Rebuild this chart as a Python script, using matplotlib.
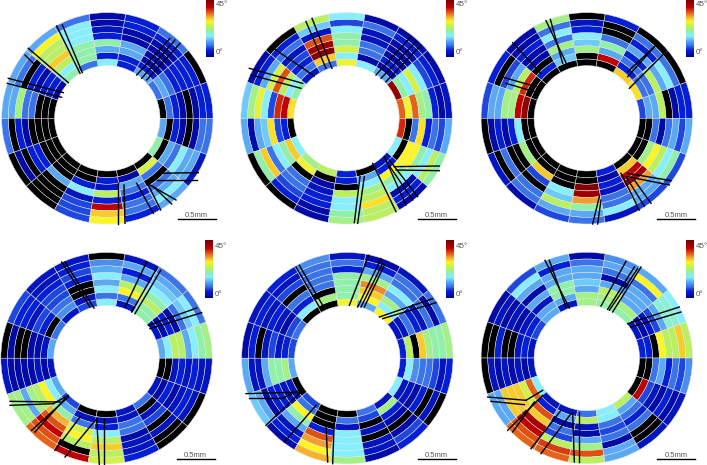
import numpy as np
import matplotlib
matplotlib.use("Agg")
import matplotlib.pyplot as plt
from matplotlib.cm import ScalarMappable
from matplotlib.colors import LinearSegmentedColormap, Normalize

W, H = 707, 465
K = np.nan  # black cells: no reading

# one row per 20 degree sector (counter-clockwise from 3 o'clock), rings inner -> outer
angles_a = [
    [K, 10, 6, 2, K, 2, 6, 6], [10, 14, 10, 6, 6, 6, 6, K], [14, 6, 2, 2, 2, 2, 6, 10],
    [6, 6, 14, 14, 2, 2, 6, 6], [18, 6, 14, 22, 6, 4, 2, 2], [10, 22, 22, 22, 18, 18, 18, 10],
    [22, 18, 26, 33, 26, 26, 31, 14], [2, 6, 6, 2, 6, K, 10, 14], [K, K, K, 10, 10, 24, 14, 14],
    [K, K, K, K, 2, 6, K, 10], [K, K, K, 6, 6, K, 2, K], [K, K, K, 14, K, K, K, K],
    [K, K, 6, 18, 4, 8, 8, 8], [K, 6, 4, 26, 6, 43, 33, 31], [K, 2, 14, 10, 6, 10, 10, 6],
    [K, 28, 10, K, 10, 14, 18, 14], [22, K, 14, 10, 18, 14, 14, 4], [14, K, 6, 2, K, 2, 10, 10],
]
angles_b = [
    [38, 30, 38, 24, 22, 6, 2, 4], [47, 22, 18, 28, 18, 8, 6, 2], [14, 2, 6, 2, 2, 2, 6, 2],
    [18, 2, 10, 10, 4, 4, 10, 2], [30, 18, 28, 22, 22, 18, 8, 18], [10, 33, 48, 46, 39, 4, 16, 26],
    [4, 10, 6, 8, 4, 10, 6, K], [22, 18, 26, 39, 28, 14, 6, 2], [32, 43, 41, 8, 18, 29, 24, 16],
    [K, 6, 8, 32, 16, 14, 2, 14], [18, 33, 22, 18, 10, 33, 22, K], [24, 30, K, 10, 10, 8, 6, K],
    [26, K, 2, 4, 6, 6, 2, 2], [6, 6, K, 26, 18, 18, 22, 24], [K, 14, 18, 24, 26, 32, 26, 26],
    [4, 6, 31, 22, 18, 2, 6, 2], [18, K, 31, 31, 22, 18, 26, 22], [41, K, 10, 32, 6, 10, 8, 14],
]
angles_c = [
    [8, 14, 14, 26, K, 2, 6, 6], [32, 10, 10, 26, 14, 18, 10, K], [33, 6, 10, 6, 14, 6, 10, K],
    [K, 43, 14, 22, 10, K, K, 6], [K, K, 24, 16, 18, 6, 4, K], [K, 16, 14, 24, 10, 18, 10, 24],
    [K, 6, K, 2, 2, 6, 2, 2], [K, K, 41, 26, 14, 8, K, 6], [K, 47, 43, 24, 24, 14, 14, 8],
    [K, K, 18, 6, 2, 6, 2, K], [K, K, 24, K, K, 10, K, 4], [K, K, 33, 8, K, 10, 10, 2],
    [K, K, K, 18, 16, 26, 14, 8], [K, K, 48, 46, 35, 22, 14, 10], [6, 2, 6, 4, 10, 10, 18, 4],
    [K, 33, 43, 46, 35, 14, 14, 8], [K, K, 24, 31, 26, 18, 22, 8], [K, K, 10, 2, 10, 14, 8, 14],
]
angles_d = [
    [14, 18, 26, 26, 14, 18, 22, 24], [4, 2, 6, 2, 10, 16, 18, 10], [22, 22, 26, 22, 18, 16, 14, 10],
    [4, 10, 31, 26, 14, 6, 14, 4], [18, 10, 18, 14, 18, 14, 12, K], [8, 4, K, K, 6, 8, 6, 4],
    [4, 12, 10, 8, 8, 6, 4, 4], [10, K, 6, 8, 4, 6, 6, 8], [14, 4, 2, 2, K, K, 2, K],
    [4, 2, 4, 2, 2, 2, 2, 4], [14, 18, 31, 26, 24, 14, 24, 24], [8, 14, 22, 34, 39, 43, 39, 38],
    [K, 4, 10, 28, 31, 26, K, 43], [K, 4, 6, 18, 26, 33, 26, 28], [4, 4, 10, 10, 2, 4, 4, 6],
    [10, K, 4, 8, K, 4, K, K], [4, 2, 6, 2, 4, 6, 4, K], [K, K, 4, 6, 4, 6, 4, 4],
]
angles_e = [
    [6, 26, K, 33, 24, 22, 22, 24], [4, 4, 10, 6, 4, 10, 2, 10], [31, 18, 24, 14, 18, 10, 10, 4],
    [14, 31, 33, 36, 24, 14, 6, 2], [30, 22, 22, 22, 22, 6, 10, 4], [K, 24, K, 10, 10, 10, 10, 12],
    [K, 18, 6, 10, K, 8, 4, 6], [10, 8, 2, 4, 6, 4, 6, 4], [8, 6, 4, 8, 4, K, 6, 2],
    [14, 24, 22, 22, 14, 4, 4, 14], [K, 4, 4, 6, 6, 2, 14, 16], [8, 10, 31, 22, 14, 4, 6, 2],
    [K, K, K, 6, 39, 35, 31, 34], [K, 10, 4, 18, 18, 18, 18, 24], [10, 8, K, 4, K, 4, 4, 2],
    [4, 24, 6, 2, K, 2, 8, 6], [18, 4, 4, 2, 6, K, 4, K], [6, 18, 12, 10, 10, 8, 4, 6],
]
angles_f = [
    [6, 6, K, 31, 26, 26, 33, 26], [4, 2, 4, 8, 14, 20, 20, 18], [22, 24, 14, 14, 14, 10, 31, 14],
    [22, 24, 26, 14, 2, 10, 14, 12], [24, 24, 14, 16, 14, 14, 10, 2], [4, 14, 22, 22, 14, 14, 6, 14],
    [14, 14, 4, 14, 2, 14, 18, 8], [8, 6, 4, 2, 4, 2, 4, 2], [4, 6, 4, K, K, 6, K, K],
    [4, 2, 4, 2, 4, 2, 4, K], [18, 38, 28, 33, 33, 33, 14, 14], [4, 6, 39, 33, 45, 43, 39, 38],
    [4, 14, 2, 10, 8, 26, 40, 38], [10, 26, 4, 2, 14, 24, 39, 26], [18, 18, 10, 8, 10, 2, 14, 14],
    [26, 14, 10, 6, 10, K, K, 4], [K, 43, 8, 4, 2, 6, 2, 4], [K, K, 10, 14, 6, 10, 8, 12],
]

# thin black traces, read as (x1, y1, x2, y2) on a 3x zoom of each panel
traces_a = [(170, 78, 240, 220), (187, 75, 247, 218), (85, 145, 205, 248), (75, 165, 100, 190),
            (25, 235, 190, 278), (22, 250, 185, 292), (410, 225, 510, 115), (425, 235, 525, 120),
            (440, 240, 540, 130), (470, 520, 595, 518), (470, 540, 590, 540), (355, 550, 355, 672),
            (372, 555, 375, 670), (410, 550, 460, 640), (440, 545, 482, 630), (460, 560, 515, 612),
            (450, 555, 528, 600)]
traces_b = [(210, 65, 270, 205), (228, 55, 288, 205), (105, 140, 235, 228), (40, 205, 200, 250),
            (45, 225, 195, 265), (420, 225, 525, 110), (435, 235, 540, 125), (450, 245, 555, 135),
            (475, 500, 610, 498), (480, 510, 610, 512), (385, 530, 365, 670), (372, 530, 355, 668),
            (410, 490, 480, 635), (445, 470, 510, 615), (460, 480, 545, 590), (455, 490, 530, 600)]
traces_c = [(225, 62, 285, 188), (238, 58, 275, 190), (125, 128, 210, 220), (90, 230, 195, 260),
            (105, 250, 190, 275), (470, 230, 555, 135), (475, 265, 585, 155), (470, 215, 545, 145),
            (470, 520, 600, 542), (470, 530, 595, 555), (385, 590, 365, 672), (390, 600, 380, 672),
            (450, 520, 505, 630), (465, 530, 520, 618), (490, 540, 540, 610)]
traces_d = [(195, 90, 282, 228), (185, 90, 270, 225), (30, 508, 180, 510), (30, 520, 160, 515),
            (160, 515, 205, 490), (95, 595, 205, 495), (105, 600, 195, 500), (165, 655, 240, 555),
            (195, 675, 290, 560), (290, 560, 298, 697), (312, 560, 312, 697), (375, 225, 440, 90),
            (395, 240, 470, 110), (405, 245, 482, 115), (445, 280, 590, 228), (450, 290, 605, 242)]
traces_e = [(180, 105, 250, 225), (190, 100, 260, 220), (340, 220, 398, 70), (365, 225, 435, 80),
            (375, 225, 440, 95), (385, 225, 445, 100), (430, 255, 590, 200), (440, 260, 600, 212),
            (30, 485, 200, 480), (40, 498, 140, 498), (140, 498, 190, 475), (90, 580, 195, 480),
            (145, 630, 240, 520), (270, 575, 275, 690), (295, 560, 290, 695)]
traces_f = [(222, 85, 295, 228), (235, 85, 285, 225), (390, 222, 465, 88), (410, 232, 490, 105),
            (425, 240, 510, 105), (415, 235, 500, 110), (470, 275, 625, 225), (480, 285, 630, 240),
            (50, 495, 165, 505), (165, 505, 215, 475), (60, 508, 160, 518), (110, 595, 215, 490),
            (125, 600, 190, 510), (180, 650, 270, 535), (210, 665, 300, 545), (305, 545, 310, 690),
            (325, 540, 325, 690)]

panels = [
    (angles_a, traces_a, 107.3, 118.3, (0, 0), 206, -1, 177.7, 219.3),
    (angles_b, traces_b, 346.5, 118.3, (236, 0), 446, -1, 417.7, 219.3),
    (angles_c, traces_c, 586.8, 118.3, (471, 0), 686, -1, 657, 219.3),
    (angles_d, traces_d, 106.5, 358.2, (0, 232), 205, 240, 176.7, 459),
    (angles_e, traces_e, 347.3, 358.2, (236, 232), 446, 240, 417.7, 459),
    (angles_f, traces_f, 586.8, 358.0, (471, 232), 686, 240, 657, 459),
]

R_OUT, R_IN = 105.7, 52.7

cmap = LinearSegmentedColormap.from_list("angle", [
    (0 / 50, "#000090"), (6 / 50, "#0520d8"), (10 / 50, "#3a74e8"), (14 / 50, "#5aaaf5"),
    (18 / 50, "#85efff"), (22 / 50, "#8ff0a8"), (26 / 50, "#b8f060"), (31 / 50, "#fdf520"),
    (35 / 50, "#f0a030"), (39 / 50, "#e05010"), (43 / 50, "#c00000"), (50 / 50, "#700000"),
])
cmap.set_bad("black")
norm = Normalize(0, 50)


def draw_panel(fig, values, traces, cx, cy, origin, bar_x, bar_y, scale_x, scale_y):
    ax = fig.add_axes([(cx - R_OUT - 1) / W, 1 - (cy + R_OUT + 1) / H,
                       (2 * R_OUT + 2) / W, (2 * R_OUT + 2) / H], projection="polar")
    ax.set_ylim(0, R_OUT + 1)
    ax.axis("off")
    ax.patch.set_alpha(0)

    values = np.array(values, dtype=float)
    n_sectors, n_rings = values.shape
    width = 2 * np.pi / n_sectors
    dr = (R_OUT - R_IN) / n_rings
    for (s, i), val in np.ndenumerate(values):
        ax.bar((s + 0.5) * width, dr, width=width, bottom=R_IN + i * dr,
               color=cmap(norm(np.ma.masked_invalid(val))),
               edgecolor="#e4e4e4", linewidth=0.35)

    # traces were read in crop pixels, 3x the figure scale
    for x1, y1, x2, y2 in traces:
        xs = np.array([x1, x2]) / 3 + origin[0] - cx
        ys = cy - (np.array([y1, y2]) / 3 + origin[1])
        ax.plot(np.arctan2(ys, xs), np.hypot(xs, ys), color="black", lw=1.0, clip_on=False)

    cax = fig.add_axes([bar_x / W, 1 - (bar_y + 58) / H, 8.2 / W, 58 / H])
    cb = fig.colorbar(ScalarMappable(norm, cmap), cax=cax)
    cb.set_ticks([])
    cb.outline.set_visible(False)
    fig.text((bar_x + 9.5) / W, 1 - (bar_y + 6) / H, "45°", fontsize=5.8, color="#555555", va="center")
    fig.text((bar_x + 9.5) / W, 1 - (bar_y + 54) / H, "0°", fontsize=5.8, color="#555555", va="center")

    # scale bar
    fig.add_artist(plt.Line2D([scale_x / W, (scale_x + 38.3) / W],
                              [1 - scale_y / H, 1 - scale_y / H], color="black", lw=1.0))
    fig.text((scale_x + 19) / W, 1 - (scale_y - 0.5) / H, "0.5mm", fontsize=5.5, color="#555555",
             ha="center", va="bottom")


def main():
    plt.rcParams["font.family"] = ["Liberation Sans", "DejaVu Sans"]
    fig = plt.figure(figsize=(W / 100, H / 100), dpi=100)
    for values, traces, cx, cy, origin, bar_x, bar_y, scale_x, scale_y in panels:
        draw_panel(fig, values, traces, cx, cy, origin, bar_x, bar_y, scale_x, scale_y)
    fig.savefig("out.png", dpi=100)


if __name__ == "__main__":
    main()
